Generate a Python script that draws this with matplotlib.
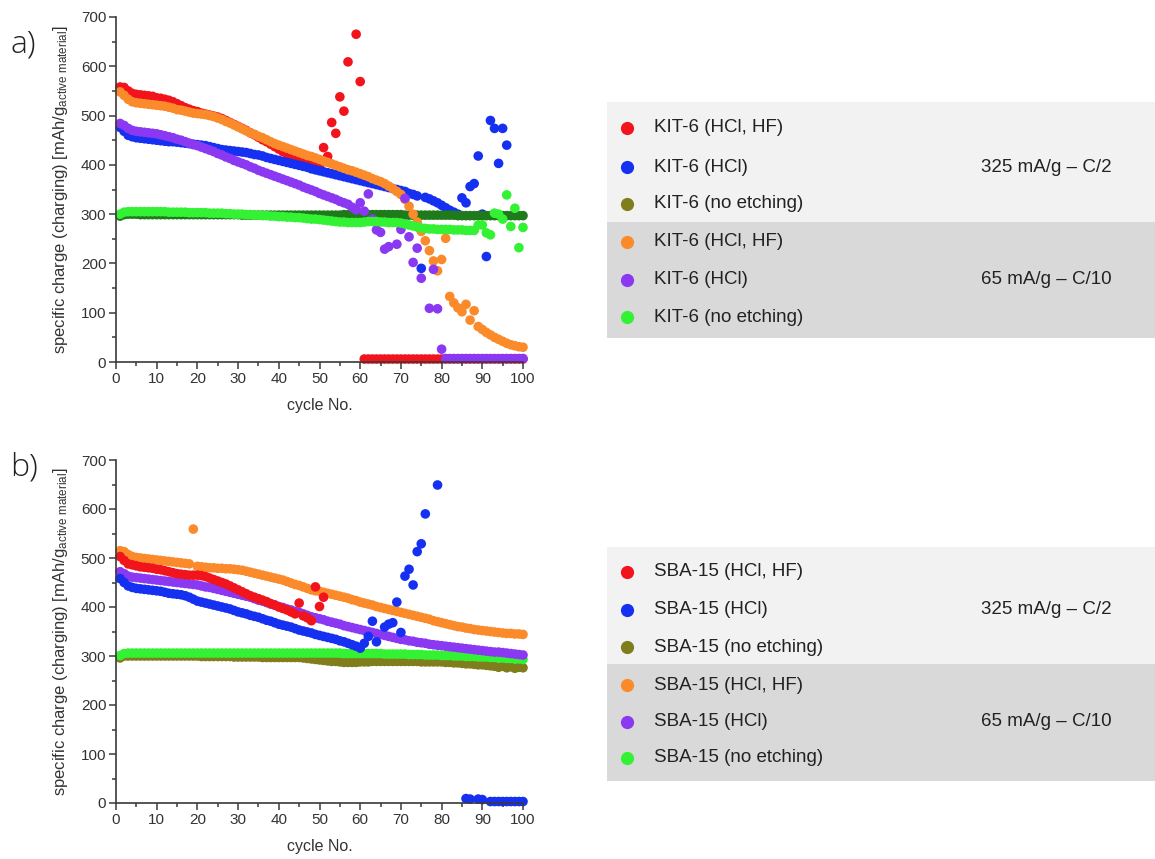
import numpy as np
import matplotlib
matplotlib.use("Agg")
import matplotlib.pyplot as plt
from matplotlib.patches import Rectangle
from matplotlib.ticker import MultipleLocator

plt.rcParams['font.family'] = ['Liberation Sans', 'DejaVu Sans']
plt.rcParams['mathtext.fontset'] = 'custom'
plt.rcParams['mathtext.rm'] = 'Liberation Sans'
plt.rcParams['mathtext.it'] = 'Liberation Sans:italic'

nan = np.nan
cycles = np.arange(1, 101)

# ---------------- KIT-6 ----------------
# 325 mA/g - C/2
kit_hclhf_fast = [
    558, 557, 550, 545, 543, 542, 541, 540, 539, 536,
    535, 533, 531, 528, 524, 520, 516, 513, 510, 508,
    505, 503, 501, 499, 497, 494, 490, 486, 482, 478,
    474, 470, 465, 461, 456, 451, 447, 442, 437, 432,
    427, 423, 419, 415, 411, 407, 404, 401, 399, 397,
    435, 417, 486, 464, 538, 509, 609, nan, 665, 569,
    6, 6, 6, 6, 6, 6, 6, 6, 6, 6,
    6, 6, 6, 6, 6, 6, 6, 6, 6, 6,
    6, 6, 6, 6, 6, 6, 6, 6, 6, 6,
    6, 6, 6, 6, 6, 6, 6, 6, 6, 6,
]
kit_hcl_fast = [
    476, 468, 460, 457, 455, 454, 453, 452, 451, 450,
    449, 448, 447, 447, 446, 445, 444, 443, 442, 441,
    440, 439, 437, 435, 433, 431, 430, 429, 428, 427,
    426, 425, 423, 421, 420, 418, 415, 413, 411, 409,
    407, 405, 403, 401, 399, 397, 395, 392, 390, 388,
    386, 384, 382, 380, 378, 376, 374, 372, 370, 368,
    366, 364, 362, 360, 358, 356, 354, 352, 350, 348,
    346, 342, 340, 337, 190, 334, 331, 327, 323, 318,
    313, 308, 304, 300, 333, 323, 356, 362, 418, 300,
    214, 490, 474, 403, 474, 440, nan, nan, nan, nan,
]
kit_none_fast = [
    296, 299, 300, 300, 300, 299, 299, 299, 299, 299,
    299, 299, 299, 299, 299, 299, 299, 299, 299, 299,
    299, 299, 299, 299, 299, 299, 299, 299, 299, 299,
    298, 298, 298, 298, 298, 298, 298, 298, 298, 298,
    298, 298, 298, 298, 298, 298, 298, 298, 298, 298,
    298, 298, 298, 298, 298, 299, 299, 299, 299, 299,
    299, 299, 299, 299, 299, 299, 299, 299, 299, 299,
    298, 298, 298, 298, 298, 298, 298, 298, 298, 298,
    298, 298, 298, 297, 297, 297, 297, 297, 297, 297,
    297, 297, 297, 297, 297, 297, 297, 297, 297, 297,
]
# 65 mA/g - C/10
kit_hclhf_slow = [
    548, 541, 533, 528, 526, 525, 524, 523, 522, 521,
    520, 519, 517, 515, 512, 511, 509, 507, 505, 504,
    503, 502, 500, 498, 495, 492, 488, 485, 481, 477,
    473, 469, 465, 462, 458, 455, 451, 447, 443, 440,
    437, 434, 431, 428, 425, 422, 419, 417, 414, 411,
    408, 405, 402, 399, 396, 393, 390, 388, 385, 382,
    379, 376, 372, 369, 366, 362, 357, 352, 346, 340,
    330, 316, 300, 284, 265, 246, 226, 205, 185, 208,
    251, 133, 120, 110, 102, 117, 85, 104, 72, 66,
    60, 55, 50, 46, 42, 38, 35, 33, 31, 30,
]
kit_hcl_slow = [
    484, 480, 474, 470, 468, 467, 466, 465, 464, 463,
    461, 459, 457, 455, 452, 450, 447, 444, 441, 439,
    436, 433, 430, 427, 423, 420, 416, 413, 409, 406,
    403, 400, 396, 393, 389, 386, 383, 380, 377, 374,
    371, 368, 365, 362, 359, 355, 352, 349, 346, 342,
    339, 336, 333, 330, 326, 323, 320, 314, 309, 323,
    306, 341, 290, 268, 263, 229, 234, nan, 239, 269,
    332, 254, 202, 231, 170, nan, 109, 188, 108, 26,
    7, 7, 7, 7, 7, 7, 7, 7, 7, 7,
    7, 7, 7, 7, 7, 7, 7, 7, 7, 7,
]
kit_none_slow = [
    300, 304, 305, 305, 305, 305, 305, 305, 305, 305,
    305, 305, 304, 304, 304, 304, 304, 303, 303, 303,
    303, 303, 302, 302, 302, 302, 301, 301, 300, 300,
    300, 299, 299, 298, 298, 297, 297, 296, 296, 295,
    295, 294, 294, 293, 293, 292, 291, 290, 290, 289,
    288, 287, 286, 285, 284, 284, 283, 283, 283, 283,
    284, 285, 285, 285, 284, 284, 283, 283, 283, 282,
    280, 278, 276, 274, 272, 271, 270, 270, 269, 269,
    269, 269, 268, 268, 268, 267, 267, 267, 278, 278,
    262, 258, 302, 300, 290, 339, 275, 312, 232, 273,
]

# ---------------- SBA-15 ----------------
# 325 mA/g - C/2
sba_hclhf_fast = [
    503, 495, 488, 486, 484, 482, 481, 480, 479, 477,
    476, 474, 472, 470, 468, 467, 466, 465, 465, 465,
    464, 462, 459, 456, 453, 450, 447, 443, 439, 435,
    431, 427, 423, 420, 417, 414, 411, 407, 404, 400,
    397, 394, 390, 386, 408, 382, 378, 372, 441, 401,
    420, nan, nan, nan, nan, nan, nan, nan, nan, nan,
    nan, nan, nan, nan, nan, nan, nan, nan, nan, nan,
    nan, nan, nan, nan, nan, nan, nan, nan, nan, nan,
    nan, nan, nan, nan, nan, nan, nan, nan, nan, nan,
    nan, nan, nan, nan, nan, nan, nan, nan, nan, nan,
]
sba_hcl_fast = [
    458, 450, 443, 440, 438, 437, 436, 435, 434, 433,
    432, 430, 428, 427, 426, 425, 423, 420, 416, 412,
    410, 408, 406, 404, 402, 400, 398, 396, 393, 390,
    388, 386, 383, 381, 379, 376, 373, 371, 368, 365,
    363, 361, 359, 356, 353, 351, 349, 347, 344, 342,
    340, 338, 336, 334, 331, 329, 326, 323, 320, 316,
    326, 340, 371, 329, nan, 359, 365, 368, 410, 348,
    463, 477, 445, 513, 529, 590, nan, nan, 649, nan,
    nan, nan, nan, nan, nan, 9, 8, nan, 8, 7,
    nan, 3, 3, 3, 3, 3, 3, 3, 3, 3,
]
sba_none_fast = [
    296, 300, 300, 300, 300, 300, 300, 300, 300, 300,
    300, 300, 300, 300, 300, 300, 300, 300, 300, 300,
    299, 299, 299, 299, 299, 299, 299, 299, 298, 298,
    298, 298, 298, 298, 298, 297, 297, 297, 297, 297,
    297, 297, 297, 297, 297, 296, 295, 294, 293, 292,
    291, 290, 289, 289, 288, 287, 287, 287, 287, 288,
    288, 288, 289, 289, 289, 289, 289, 289, 289, 289,
    289, 289, 289, 289, 288, 288, 288, 288, 288, 288,
    287, 287, 286, 286, 285, 284, 284, 283, 282, 282,
    281, 280, 279, 277, 279, 276, 278, 275, 277, 276,
]
# 65 mA/g - C/10
sba_hclhf_slow = [
    515, 513, 507, 503, 501, 500, 499, 498, 497, 496,
    495, 494, 493, 492, 491, 490, 489, 488, 559, 483,
    482, 481, 480, 480, 479, 479, 478, 478, 477, 476,
    475, 473, 471, 469, 467, 465, 463, 461, 459, 457,
    455, 452, 449, 446, 444, 441, 438, 435, 433, 432,
    430, 428, 426, 424, 422, 420, 418, 415, 413, 410,
    408, 406, 404, 401, 399, 397, 395, 393, 391, 389,
    387, 385, 383, 381, 379, 377, 375, 372, 370, 368,
    366, 364, 362, 360, 359, 357, 356, 354, 353, 352,
    351, 350, 349, 348, 347, 346, 346, 345, 345, 344,
]
sba_hcl_slow = [
    472, 468, 463, 461, 460, 459, 458, 457, 456, 455,
    454, 453, 452, 451, 450, 449, 448, 447, 446, 445,
    443, 441, 440, 438, 436, 434, 432, 430, 428, 426,
    424, 422, 420, 417, 414, 412, 409, 406, 404, 401,
    399, 396, 394, 391, 389, 386, 383, 380, 378, 376,
    374, 371, 369, 367, 365, 362, 360, 358, 356, 354,
    352, 350, 348, 346, 344, 342, 340, 338, 336, 334,
    333, 331, 330, 328, 327, 326, 324, 323, 322, 321,
    320, 319, 318, 317, 316, 315, 314, 313, 312, 311,
    310, 309, 308, 308, 307, 306, 305, 304, 303, 302,
]
sba_none_slow = [
    301, 305, 306, 306, 306, 306, 306, 306, 306, 306,
    306, 306, 306, 306, 306, 306, 306, 306, 306, 306,
    306, 306, 306, 306, 306, 306, 306, 306, 306, 306,
    306, 306, 306, 306, 306, 306, 306, 306, 306, 306,
    306, 306, 306, 306, 306, 306, 306, 306, 306, 306,
    306, 306, 306, 306, 306, 305, 305, 305, 305, 305,
    305, 305, 305, 305, 305, 304, 304, 304, 304, 304,
    304, 303, 303, 303, 303, 302, 302, 302, 302, 301,
    301, 301, 300, 300, 300, 299, 299, 299, 298, 298,
    298, 297, 297, 296, 296, 295, 295, 294, 294, 293,
]

RED, BLUE, OLIVE = '#f2141c', '#1530f0', '#7f7d1c'
ORANGE, PURPLE, GREEN = '#fb8a2a', '#8a38f2', '#33f233'
DARKGREEN = '#1f7a1c'

legend_a = ['KIT-6 (HCl, HF)', 'KIT-6 (HCl)', 'KIT-6 (no etching)'] * 2
legend_b = ['SBA-15 (HCl, HF)', 'SBA-15 (HCl)', 'SBA-15 (no etching)'] * 2
legend_colors = [RED, BLUE, OLIVE, ORANGE, PURPLE, GREEN]
rate_labels = ['325 mA/g \u2013 C/2', '65 mA/g \u2013 C/10']

W, H = 1155, 859
fig = plt.figure(figsize=(W / 100, H / 100), dpi=100)

# full-figure pixel-space overlay for the legend panels
lax = fig.add_axes([0, 0, 1, 1], zorder=0)
lax.set_xlim(0, W)
lax.set_ylim(H, 0)
lax.axis('off')


def px_axes(x0, y0, x1, y1):
    return fig.add_axes([x0 / W, 1 - y1 / H, (x1 - x0) / W, (y1 - y0) / H], zorder=1)


AX_COL = '#3a3a3a'
MS = 48


def style(ax):
    ax.set_xlim(0, 100)
    ax.set_ylim(0, 700)
    ax.xaxis.set_major_locator(MultipleLocator(10))
    ax.xaxis.set_minor_locator(MultipleLocator(5))
    ax.yaxis.set_major_locator(MultipleLocator(100))
    ax.yaxis.set_minor_locator(MultipleLocator(50))
    for s in ('top', 'right'):
        ax.spines[s].set_visible(False)
    for s in ('left', 'bottom'):
        ax.spines[s].set_color(AX_COL)
        ax.spines[s].set_linewidth(1.2)
    ax.tick_params(which='major', direction='out', length=5, width=1.1,
                   color=AX_COL, labelcolor='#333333', labelsize=11, pad=2)
    ax.tick_params(which='minor', direction='out', length=3, width=1.1, color=AX_COL)
    ax.set_xlabel('cycle No.', fontsize=11.5, color='#333333')
    ax.set_ylabel(r'specific charge (charging) [mAh/g$_{\mathrm{active\ material}}$]',
                  fontsize=12, color='#333333')
    ax.xaxis.set_label_coords(0.5, -0.105)
    ax.yaxis.set_label_coords(-0.112, 0.5)
    ax.patch.set_alpha(0)


def dots(ax, y, c):
    ax.scatter(cycles, y, s=MS, color=c, edgecolors='none', clip_on=False)


# panel a
axa = px_axes(116, 17, 523, 362)
dots(axa, kit_hclhf_fast, RED)
dots(axa, kit_hcl_fast, BLUE)
dots(axa, kit_none_fast, DARKGREEN)
dots(axa, kit_hclhf_slow, ORANGE)
dots(axa, kit_hcl_slow, PURPLE)
dots(axa, kit_none_slow, GREEN)
style(axa)

# panel b
axb = px_axes(116, 460, 523, 803)
dots(axb, sba_none_fast, OLIVE)
dots(axb, sba_none_slow, GREEN)
dots(axb, sba_hclhf_slow, ORANGE)
dots(axb, sba_hcl_slow, PURPLE)
dots(axb, sba_hclhf_fast, RED)
dots(axb, sba_hcl_fast, BLUE)
style(axb)

fig.text(10 / W, 1 - 45 / H, 'a)', fontsize=23, family='Open Sans', weight='light',
         color='#222222', va='center', ha='left')
fig.text(10 / W, 1 - 467 / H, 'b)', fontsize=23, family='Open Sans', weight='light',
         color='#222222', va='center', ha='left')


def legend_panel(top, split, bottom, rows, labels):
    lax.add_patch(Rectangle((607, top), W - 607, split - top, color='#f2f2f2', lw=0))
    lax.add_patch(Rectangle((607, split), W - 607, bottom - split, color='#d9d9d9', lw=0))
    for y, lab, c in zip(rows, labels, legend_colors):
        lax.plot([627], [y], 'o', ms=9.5, color=c, mec='none')
        lax.text(654, y, lab, fontsize=13.5, color='#222222', va='center', ha='left')
    lax.text(1112, rows[1], rate_labels[0], fontsize=13.5, color='#222222',
             va='center', ha='right')
    lax.text(1112, rows[4], rate_labels[1], fontsize=13.5, color='#222222',
             va='center', ha='right')


legend_panel(102, 222, 338, [128, 167, 204, 242, 280, 317], legend_a)
legend_panel(547, 664, 781, [572, 610, 647, 685, 722, 758], legend_b)

fig.savefig('out.png', dpi=100, facecolor='white')
